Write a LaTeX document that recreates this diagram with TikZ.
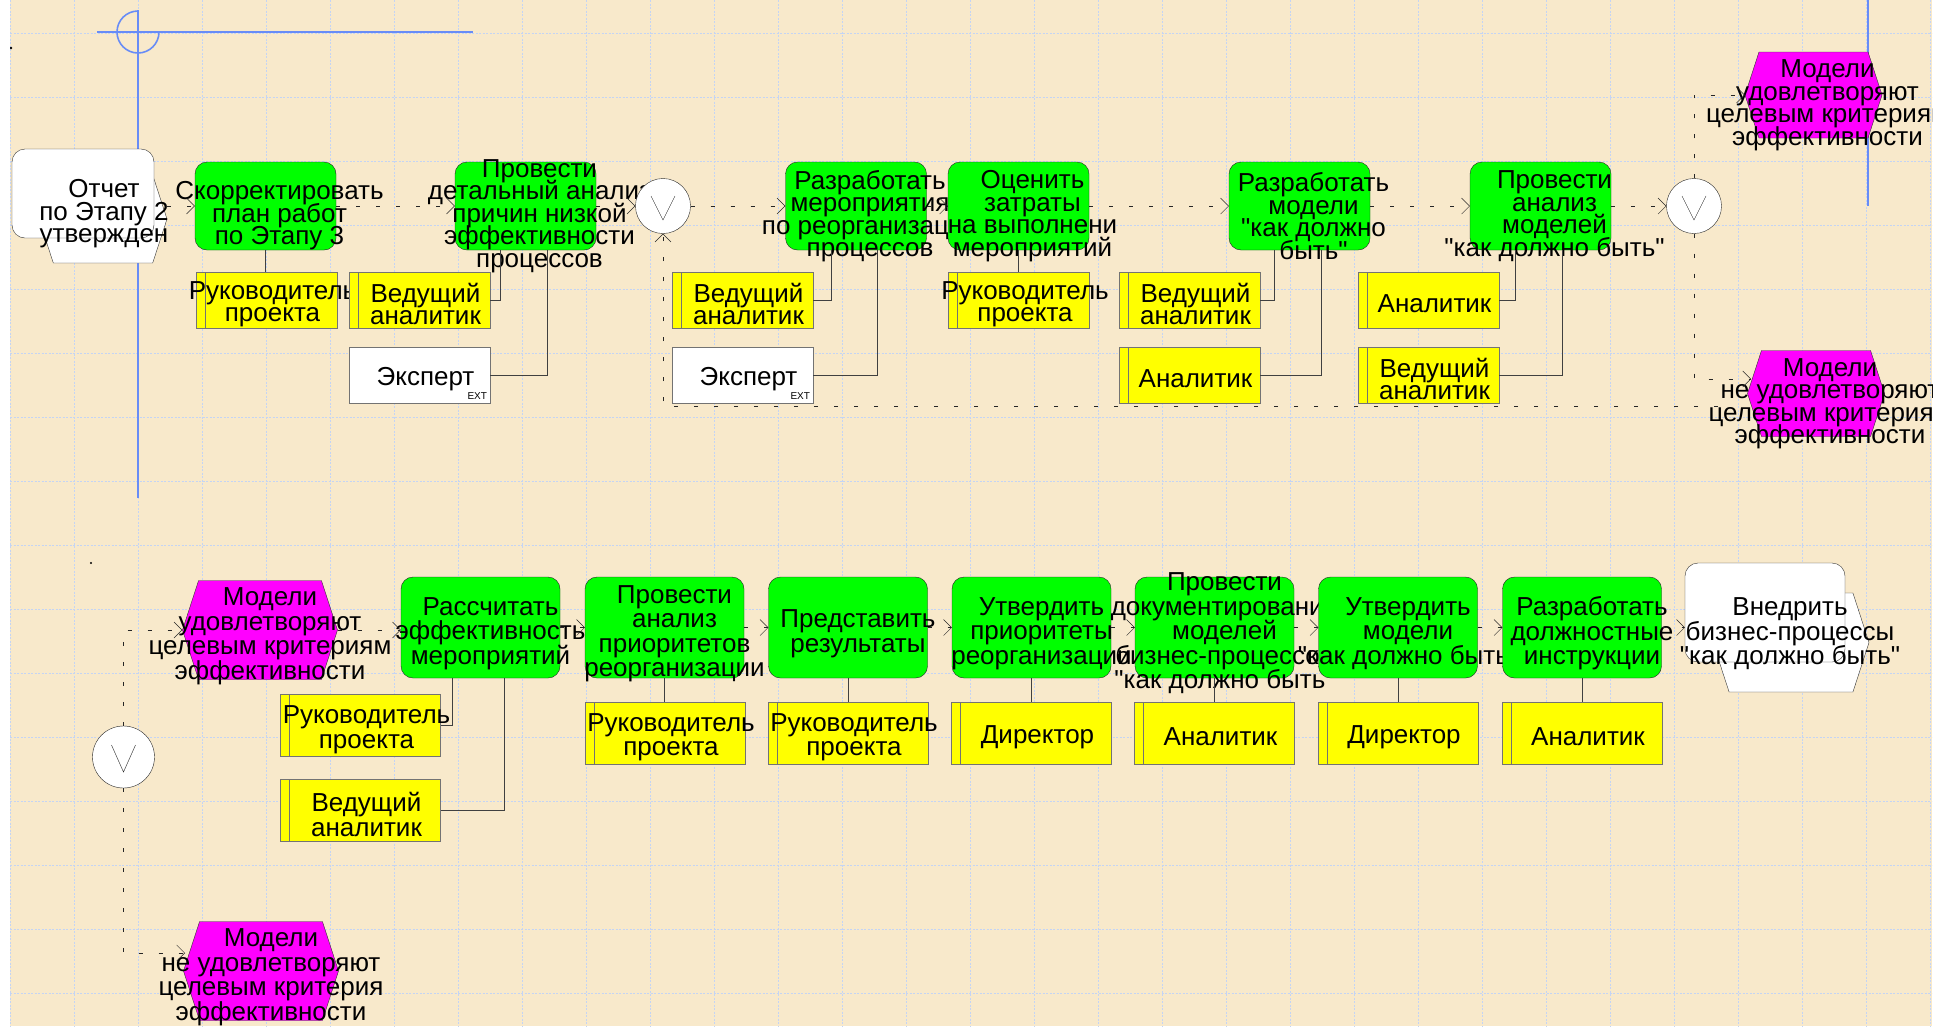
\documentclass[tikz,border=0pt]{standalone}
\usepackage{fontspec}
\setmainfont{Liberation Sans}[Ligatures=TeXOff]
\usetikzlibrary{arrows.meta,shapes.symbols}
\definecolor{paper}{RGB}{248,233,203}
\definecolor{gridblue}{RGB}{196,212,244}
\definecolor{guideblue}{RGB}{104,140,246}
\definecolor{fgreen}{RGB}{0,255,0}
\definecolor{evmag}{RGB}{255,0,255}
\definecolor{roleyel}{RGB}{255,255,0}
\tikzset{
  words/.style={align=center, inner sep=0pt, font={\fontsize{26}{22.5}\selectfont\lineskiplimit=-100pt}},
  wordsb/.style={words, font={\fontsize{26}{24.5}\selectfont\lineskiplimit=-100pt}},
  txt/.style={words, xshift=14pt, yshift=-10pt},
  txtb/.style={wordsb, xshift=10pt, yshift=-6pt},
  rtxt/.style={words, xshift=6pt, yshift=-4pt},
  rtxtb/.style={wordsb, xshift=6pt, yshift=-4pt},
  exttxt/.style={anchor=south east, inner sep=0pt, xshift=-3pt, yshift=4pt, font=\fontsize{10}{10}\selectfont},
  func/.style={rectangle, rounded corners=12pt, draw=black!85, fill=fgreen, minimum width=141pt, minimum height=88pt, inner sep=0pt},
  funcb/.style={func, minimum width=159pt, minimum height=101pt},
  role/.style={rectangle, draw=black!55, fill=roleyel, minimum width=141pt, minimum height=56pt, inner sep=0pt,
    path picture={\draw[black!55] ([xshift=9pt]path picture bounding box.north west) -- ([xshift=9pt]path picture bounding box.south west);}},
  roleb/.style={role, minimum width=160pt, minimum height=62pt},
  ext/.style={rectangle, draw=black!55, fill=white, minimum width=141pt, minimum height=56pt, inner sep=0pt},
  event/.style={signal, signal to=east and west, signal pointer angle=144, draw=black!80, fill=evmag, minimum width=137pt, minimum height=86pt, inner sep=0pt},
  eventb/.style={event, minimum width=155pt, minimum height=99pt},
  xor/.style={circle, draw=black!85, fill=white, inner sep=0pt, minimum size=55pt,
    path picture={\draw ([shift={(-12,-10)}]path picture bounding box.center) -- ([shift={(0,14)}]path picture bounding box.center) -- ([shift={(12,-10)}]path picture bounding box.center);}},
  xorb/.style={xor, minimum size=62pt,
    path picture={\draw ([shift={(-12,-12)}]path picture bounding box.center) -- ([shift={(0,15)}]path picture bounding box.center) -- ([shift={(12,-12)}]path picture bounding box.center);}},
  procrect/.style={rectangle, rounded corners=13pt, draw=black!80, fill=white, minimum width=142pt, minimum height=89pt, inner sep=0pt},
  procrectb/.style={procrect, minimum width=160pt, minimum height=99pt},
  prochex/.style={event, fill=white, minimum width=128pt, minimum height=88pt},
  prochexb/.style={event, fill=white, minimum width=156pt, minimum height=99pt},
  flow/.style={draw=black!85, dash pattern=on 4pt off 16pt, -{Straight Barb[length=8pt,width=16pt]}},
  link/.style={draw=black!75},
  gridline/.style={draw=gridblue, line width=1pt, dash pattern=on 2pt off 1.5pt},
  guide/.style={draw=guideblue, line width=1.6pt}
}
\begin{document}
\begin{tikzpicture}[x=1pt, y=-1pt]
\useasboundingbox (0,0) rectangle (1952,1026);
\fill[white] (0,0) rectangle (1952,1026);
\begin{scope}
\clip (10,0) rectangle (1932,1026);
\fill[paper] (10,0) rectangle (1932,1026);
\foreach \gx in {10,74,...,1932} \draw[gridline] (\gx,0) -- (\gx,1026);
\foreach \gy in {33,97,...,1026} \draw[gridline] (10,\gy) -- (1932,\gy);

% guide marks
\draw[guide] (97,32) -- (473,32);
\draw[guide] (138,10) -- (138,498);
\draw[guide] (138,11) arc[start angle=90, end angle=360, radius=21pt];
\draw[guide] (1868,0) -- (1868,206);
\fill (11,48) circle[radius=1.4pt];
\fill (91,563) circle[radius=1.2pt];

% upper chain
\node[prochex] (otchethex) at (103,219) {};
\node[procrect] (otchet) at (83,193.5) {};
\node[words] (otchettxt) at (104,214) {Отчет\\по Этапу 2\\утвержден};

\node[func, label={[txt]center:{Скорректировать\\план работ\\по Этапу 3}}] (f1) at (265.5,206) {};
\node[func, label={[txt]center:{Провести\\детальный анализ\\причин низкой\\эффективности\\процессов}}] (f2) at (525.5,206) {};
\node[xor] (xor1) at (663,206) {};
\node[func, label={[txt]center:{Разработать\\мероприятия\\по реорганизации\\процессов}}] (f3) at (856,206) {};
\node[func, label={[txt]center:{Оценить\\затраты\\на выполнени\\мероприятий}}] (f4) at (1018.5,206) {};
\node[func, label={[txt]center:{Разработать\\модели\\"как должно\\быть"}}] (f5) at (1299.5,206) {};
\node[func, label={[txt]center:{Провести\\анализ\\моделей\\"как должно быть"}}] (f6) at (1540.5,206) {};
\node[xor] (xor2) at (1694,206) {};
\node[event, label={[txt]center:{Модели\\удовлетворяют\\целевым критериям\\эффективности}}] (eyes) at (1813.5,95) {};
\node[event, label={[txt]center:{Модели\\не удовлетворяют\\целевым критериям\\эффективности}}] (eno) at (1816,393.5) {};
\coordinate (enoin) at (1751,379);
\coordinate (enoback) at (1718,406);

\node[role, label={[rtxt]center:{Руководитель\\проекта}}] (r1) at (266.5,300) {};
\node[role, label={[rtxt]center:{Ведущий\\аналитик}}] (r2) at (419.5,300) {};
\node[ext, label={[rtxt]center:Эксперт}, label={[exttxt]south east:EXT}] (x1) at (419.5,375) {};
\node[role, label={[rtxt]center:{Ведущий\\аналитик}}] (r3) at (742.5,300) {};
\node[ext, label={[rtxt]center:Эксперт}, label={[exttxt]south east:EXT}] (x2) at (742.5,375) {};
\node[role, label={[rtxt]center:{Руководитель\\проекта}}] (r4) at (1019,300) {};
\node[role, label={[rtxt]center:{Ведущий\\аналитик}}] (r5) at (1189.5,300) {};
\node[role, label={[rtxt]center:Аналитик}] (r6) at (1189.5,375) {};
\node[role, label={[rtxt]center:Аналитик}] (r7) at (1428.5,300) {};
\node[role, label={[rtxt]center:{Ведущий\\аналитик}}] (r8) at (1428.5,375) {};

% lower chain
\node[eventb, label={[txtb]center:{Модели\\удовлетворяют\\целевым критериям\\эффективности}}] (eyes2) at (260,630) {};
\node[funcb, label={[txtb]center:{Рассчитать\\эффективность\\мероприятий}}] (g1) at (480.5,627.5) {};
\node[funcb, label={[txtb]center:{Провести\\анализ\\приоритетов\\реорганизации}}] (g2) at (664.5,627.5) {};
\node[funcb, label={[txtb]center:{Представить\\результаты}}] (g3) at (848,627.5) {};
\node[funcb, label={[txtb]center:{Утвердить\\приоритеты\\реорганизации}}] (g4) at (1031.5,627.5) {};
\node[funcb, label={[txtb]center:{Провести\\документирование\\моделей\\бизнес-процессов\\"как должно быть"}}] (g5) at (1214.5,627.5) {};
\node[funcb, label={[txtb]center:{Утвердить\\модели\\"как должно быть"}}] (g6) at (1398,627.5) {};
\node[funcb, label={[txtb]center:{Разработать\\должностные\\инструкции}}] (g7) at (1582,627.5) {};
\node[prochexb] (vnedrhex) at (1791,642.5) {};
\node[procrectb] (vnedr) at (1765,612.5) {};
\node[wordsb] (vnedrtxt) at (1790,634) {Внедрить\\бизнес-процессы\\"как должно быть"};

\node[roleb, label={[rtxtb]center:{Руководитель\\проекта}}] (q1) at (360.5,725.5) {};
\node[roleb, label={[rtxtb]center:{Ведущий\\аналитик}}] (q2) at (360.5,810.5) {};
\node[roleb, label={[rtxtb]center:{Руководитель\\проекта}}] (q3) at (665,733) {};
\node[roleb, label={[rtxtb]center:{Руководитель\\проекта}}] (q4) at (848,733) {};
\node[roleb, label={[rtxtb]center:Директор}] (q5) at (1031.5,733) {};
\node[roleb, label={[rtxtb]center:Аналитик}] (q6) at (1214.5,733) {};
\node[roleb, label={[rtxtb]center:Директор}] (q7) at (1398,733) {};
\node[roleb, label={[rtxtb]center:Аналитик}] (q8) at (1582,733) {};

\node[xorb] (xor3) at (123.5,757) {};
\node[eventb, label={[txtb]center:{Модели\\не удовлетворяют\\целевым критерия\\эффективности}}] (eno2) at (261,971) {};
\coordinate (enoin2) at (185,953);

% control flow
\draw[flow] (otchethex.east |- f1.west) -- (f1.west);
\draw (f1) edge[flow] (f2)
      (f2) edge[flow] (xor1)
      (xor1) edge[flow] (f3)
      (f3) edge[flow] (f4)
      (f4) edge[flow] (f5)
      (f5) edge[flow] (f6)
      (f6) edge[flow] (xor2);
\draw[flow] (xor2.north) |- (eyes.west);
\draw[flow] (xor2.south) |- (enoin);
\draw[flow] (enoback) -| (xor1.south);

\draw[flow] (xor3.north) |- (eyes2.west);
\draw[flow] (xor3.south) |- (enoin2);
\draw[flow] (eyes2.east) -- (g1.west |- eyes2.east);
\draw (g1) edge[flow] (g2)
      (g2) edge[flow] (g3)
      (g3) edge[flow] (g4)
      (g4) edge[flow] (g5)
      (g5) edge[flow] (g6)
      (g6) edge[flow] (g7);
\draw[flow] (g7.east) -- (g7.east -| vnedr.west);

% roles
\draw[link] (f1.south) -- (f1.south |- r1.north);
\draw[link] ([xshift=-25pt]f2.south) |- (r2.east);
\draw[link] ([xshift=22pt]f2.south) |- (x1.east);
\draw[link] ([xshift=-25pt]f3.south) |- (r3.east);
\draw[link] ([xshift=21pt]f3.south) |- (x2.east);
\draw[link] (f4.south) -- (f4.south |- r4.north);
\draw[link] ([xshift=-25pt]f5.south) |- (r5.east);
\draw[link] ([xshift=22pt]f5.south) |- (r6.east);
\draw[link] ([xshift=-25pt]f6.south) |- (r7.east);
\draw[link] ([xshift=22pt]f6.south) |- (r8.east);

\draw[link] ([xshift=-28pt]g1.south) |- (q1.east);
\draw[link] ([xshift=24pt]g1.south) |- (q2.east);
\draw[link] (g2.south) -- (g2.south |- q3.north);
\draw[link] (g3.south) -- (g3.south |- q4.north);
\draw[link] (g4.south) -- (g4.south |- q5.north);
\draw[link] (g5.south) -- (g5.south |- q6.north);
\draw[link] (g6.south) -- (g6.south |- q7.north);
\draw[link] (g7.south) -- (g7.south |- q8.north);
\end{scope}
\end{tikzpicture}
\end{document}
